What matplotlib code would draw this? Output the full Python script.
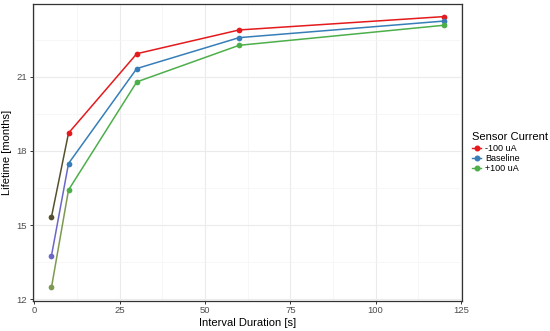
import numpy as np
import matplotlib
matplotlib.use("Agg")
import matplotlib.pyplot as plt
from matplotlib.lines import Line2D
from matplotlib.ticker import MultipleLocator

plt.rcParams['font.family'] = ['Liberation Sans', 'DejaVu Sans']

# data
interval = [5, 10, 30, 60, 120]
series_names = ['-100 uA', 'Baseline', '+100 uA']
lifetime_minus = [15.33, 18.72, 21.93, 22.89, 23.43]
lifetime_base = [13.76, 17.49, 21.33, 22.58, 23.25]
lifetime_plus = [12.48, 16.42, 20.79, 22.27, 23.08]

series_values = [lifetime_minus, lifetime_base, lifetime_plus]
colors = ['#E41A1C', '#377EB8', '#4DAF4A']
# first point / first segment is drawn in a mixed shade in the original
first_colors = ['#56512c', '#6a67c6', '#7c9a52']

fig = plt.figure(figsize=(5.5, 3.31), dpi=100)
ax = fig.add_axes([32.7 / 550, 1 - 300.5 / 331, (462.3 - 32.7) / 550, (300.5 - 4) / 331])

for vals, c, fc in zip(series_values, colors, first_colors):
    ax.plot(interval[:2], vals[:2], color=fc, lw=1.1, zorder=3)
    ax.plot(interval[1:], vals[1:], color=c, lw=1.1, zorder=3)
    ax.scatter(interval[:1], vals[:1], color=fc, s=17, zorder=4, linewidths=0)
    ax.scatter(interval[1:], vals[1:], color=c, s=17, zorder=4, linewidths=0)

ax.set_xlim(-0.5, 125.4)
ax.set_ylim(11.95, 23.94)
ax.xaxis.set_major_locator(MultipleLocator(25))
ax.xaxis.set_minor_locator(MultipleLocator(12.5))
ax.set_yticks([12, 15, 18, 21])
ax.yaxis.set_minor_locator(MultipleLocator(1.5))

ax.grid(True, which='major', color='#ebebeb', lw=0.8, zorder=0)
ax.grid(True, which='minor', color='#f4f4f4', lw=0.5, zorder=0)
ax.set_axisbelow(True)

for s in ax.spines.values():
    s.set_color('#333333')
    s.set_linewidth(0.9)

ax.tick_params(axis='both', which='major', length=2.5, width=0.7, color='#333333',
               labelsize=6.8, labelcolor='#4d4d4d', pad=1.5)
ax.tick_params(axis='both', which='minor', length=0)

ax.set_xlabel('Interval Duration [s]', fontsize=8, labelpad=2)
ax.set_ylabel('Lifetime [months]', fontsize=8, labelpad=3)

handles = [Line2D([0], [0], color=c, marker='o', markersize=3.3, lw=1.0) for c in colors]
leg = fig.legend(handles, series_names, loc='upper left',
                 bbox_to_anchor=(466 / 550, 1 - 126 / 331), frameon=False,
                 title='Sensor Current', fontsize=6.5, title_fontsize=8,
                 handlelength=1.0, handletextpad=0.4, labelspacing=0.15,
                 borderpad=0.2)
leg._legend_box.align = 'left'

fig.savefig('out.png', dpi=100)
